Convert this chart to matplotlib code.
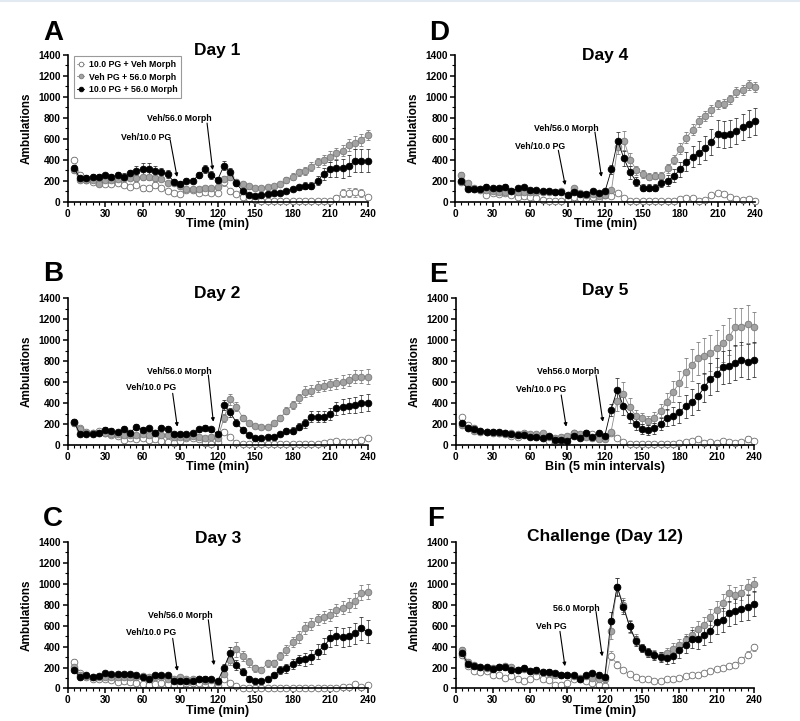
import matplotlib
matplotlib.use("Agg")
import matplotlib.pyplot as plt
from matplotlib.ticker import MultipleLocator

plt.rcParams["font.family"] = ["Liberation Sans", "DejaVu Sans"]
plt.rcParams["font.weight"] = "bold"

# 5-min bins, 0-240 min
TIME = list(range(5, 245, 5))

SERIES_LABELS = ["10.0 PG + Veh Morph", "Veh PG + 56.0 Morph", "10.0 PG + 56.0 Morph"]

# ---- Panel A (Day 1) ----
A_open = [398, 255, 205, 190, 180, 170, 170, 180, 160, 143, 160, 127,
          127, 160, 127, 100, 86, 73, 110, 110, 86, 95, 86, 80,
          190, 100, 70, 48, 32, 15, 8, 5, 5, 5, 5, 5,
          5, 5, 5, 5, 5, 5, 38, 80, 86, 89, 80, 40]
A_gray = [300, 207, 210, 210, 165, 207, 210, 215, 223, 230, 222, 232,
          232, 222, 215, 175, 180, 145, 118, 118, 125, 133, 133, 137,
          216, 240, 190, 165, 145, 127, 133, 143, 150, 165, 207, 240,
          280, 292, 335, 375, 398, 430, 460, 487, 540, 563, 590, 636]
A_black = [320, 223, 230, 240, 240, 250, 240, 250, 240, 270, 295, 310,
           310, 295, 280, 265, 185, 170, 200, 200, 255, 310, 255, 207,
           345, 280, 175, 100, 63, 54, 64, 73, 80, 86, 105, 120,
           137, 153, 153, 200, 265, 308, 320, 320, 345, 390, 390, 390]
A_open_err = [30, 25, 20, 20, 20, 20, 20, 20, 20, 20, 20, 25,
              25, 25, 20, 20, 15, 15, 20, 20, 15, 15, 15, 15,
              40, 25, 15, 10, 8, 5, 3, 3, 3, 3, 3, 3,
              3, 3, 3, 3, 3, 3, 25, 40, 45, 45, 40, 25]
A_gray_err = [30, 20, 20, 20, 20, 20, 20, 20, 20, 25, 25, 25,
              25, 25, 20, 20, 20, 20, 15, 15, 15, 15, 15, 15,
              30, 30, 25, 20, 20, 15, 15, 15, 20, 20, 25, 30,
              35, 35, 40, 45, 45, 50, 55, 55, 60, 60, 60, 45]
A_black_err = [30, 25, 25, 25, 25, 25, 25, 30, 30, 35, 45, 60,
               60, 50, 40, 35, 30, 25, 25, 25, 30, 40, 35, 30,
               40, 40, 30, 20, 15, 12, 12, 15, 15, 15, 20, 20,
               25, 30, 30, 45, 60, 70, 80, 90, 100, 110, 110, 110]

# ---- Panel B (Day 2) ----
B_open = [220, 159, 127, 118, 137, 111, 95, 86, 48, 64, 54, 70,
          48, 54, 41, 32, 22, 38, 64, 64, 54, 16, 10, 32,
          127, 73, 22, 8, 5, 5, 5, 5, 5, 5, 5, 5,
          5, 5, 5, 10, 15, 32, 41, 32, 32, 32, 48, 64]
B_gray = [207, 150, 118, 111, 118, 111, 102, 105, 95, 95, 95, 102,
          95, 118, 95, 95, 80, 73, 80, 86, 80, 70, 80, 64,
          255, 436, 366, 261, 207, 185, 175, 175, 207, 255, 328, 382,
          446, 509, 519, 557, 566, 579, 589, 605, 620, 652, 652, 652]
B_black = [215, 105, 105, 102, 118, 143, 137, 121, 150, 118, 175, 143,
           160, 118, 165, 156, 105, 105, 105, 118, 150, 165, 150, 102,
           382, 312, 213, 143, 95, 64, 70, 73, 80, 102, 134, 137,
           175, 207, 270, 270, 270, 296, 350, 366, 375, 382, 398, 404]
B_open_err = [25, 20, 15, 15, 15, 15, 15, 15, 10, 10, 10, 10,
              10, 10, 10, 8, 8, 8, 10, 10, 10, 5, 5, 8,
              25, 15, 8, 3, 3, 3, 3, 3, 3, 3, 3, 3,
              3, 3, 3, 5, 8, 12, 15, 12, 12, 12, 15, 20]
B_gray_err = [30, 20, 15, 15, 15, 15, 15, 15, 15, 15, 15, 15,
              15, 15, 15, 15, 15, 15, 15, 15, 15, 15, 15, 15,
              40, 50, 40, 30, 25, 20, 20, 20, 25, 30, 35, 40,
              45, 50, 50, 50, 50, 55, 55, 60, 60, 65, 65, 70]
B_black_err = [30, 20, 20, 20, 20, 25, 25, 20, 30, 20, 30, 25,
               25, 20, 25, 25, 20, 20, 20, 20, 25, 30, 25, 20,
               50, 45, 35, 25, 15, 12, 12, 12, 15, 20, 25, 30,
               35, 45, 55, 55, 55, 60, 65, 70, 70, 75, 80, 80]

# ---- Panel C (Day 3) ----
C_open = [255, 150, 111, 95, 86, 95, 80, 64, 73, 64, 54, 41,
          32, 41, 48, 41, 32, 32, 48, 54, 48, 41, 41, 32,
          86, 54, 25, 8, 5, 5, 5, 5, 5, 5, 5, 5,
          5, 5, 5, 5, 5, 5, 5, 16, 16, 41, 16, 32]
C_gray = [207, 127, 118, 111, 111, 111, 105, 111, 111, 105, 111, 118,
          111, 105, 111, 89, 95, 105, 95, 86, 89, 73, 80, 64,
          137, 270, 372, 312, 248, 191, 181, 239, 239, 309, 366, 445,
          493, 579, 614, 659, 684, 700, 748, 770, 795, 837, 913, 923]
C_black = [181, 105, 127, 111, 121, 143, 134, 134, 137, 137, 127, 105,
           86, 127, 127, 127, 73, 70, 73, 70, 89, 95, 86, 70,
           197, 340, 223, 159, 95, 73, 73, 86, 127, 175, 191, 232,
           270, 277, 302, 350, 404, 477, 500, 487, 500, 525, 573, 541]
C_open_err = [25, 20, 15, 15, 15, 15, 15, 12, 12, 12, 10, 10,
              8, 10, 10, 10, 8, 8, 10, 10, 10, 8, 8, 8,
              15, 10, 5, 3, 3, 3, 3, 3, 3, 3, 3, 3,
              3, 3, 3, 3, 3, 3, 3, 5, 5, 15, 5, 8]
C_gray_err = [30, 20, 15, 15, 15, 15, 15, 15, 15, 15, 15, 15,
              15, 15, 15, 15, 15, 15, 15, 15, 15, 15, 15, 15,
              30, 50, 70, 50, 40, 30, 25, 35, 35, 40, 45, 50,
              55, 55, 55, 55, 55, 60, 60, 60, 65, 70, 70, 70]
C_black_err = [30, 20, 20, 20, 20, 25, 25, 25, 25, 25, 25, 20,
               20, 25, 25, 25, 15, 15, 15, 15, 20, 20, 20, 15,
               35, 60, 50, 35, 20, 15, 15, 20, 25, 35, 40, 45,
               50, 60, 65, 70, 75, 80, 85, 90, 90, 100, 110, 110]

# ---- Panel D (Day 4) ----
D_open = [190, 127, 117, 111, 63, 86, 70, 80, 63, 48, 54, 41,
          32, 16, 6, 6, 6, 22, 48, 38, 32, 41, 32, 63,
          54, 80, 32, 3, 3, 3, 3, 3, 3, 3, 3, 22,
          32, 32, 6, 16, 63, 80, 70, 41, 22, 16, 22, 10]
D_gray = [253, 174, 127, 120, 111, 105, 89, 95, 105, 95, 95, 95,
          95, 95, 95, 89, 101, 63, 133, 80, 63, 70, 54, 63,
          111, 522, 580, 402, 300, 263, 237, 247, 247, 317, 402, 507,
          611, 687, 767, 817, 871, 928, 934, 975, 1045, 1067, 1115, 1093]
D_black = [196, 120, 120, 120, 143, 133, 127, 143, 105, 127, 136, 111,
           111, 105, 105, 95, 95, 63, 89, 73, 73, 105, 86, 105,
           307, 580, 412, 279, 190, 133, 133, 133, 180, 200, 247, 307,
           380, 428, 466, 513, 570, 650, 640, 650, 675, 713, 745, 767]
D_open_err = [25, 15, 15, 15, 10, 10, 10, 10, 10, 8, 8, 8,
              8, 5, 3, 3, 3, 5, 10, 8, 8, 8, 8, 10,
              10, 15, 8, 3, 3, 3, 3, 3, 3, 3, 3, 5,
              8, 8, 3, 5, 15, 20, 15, 10, 5, 5, 5, 5]
D_gray_err = [30, 20, 15, 15, 15, 15, 15, 15, 15, 15, 15, 15,
              15, 15, 15, 15, 15, 15, 20, 15, 15, 15, 15, 15,
              20, 70, 90, 60, 45, 40, 35, 35, 35, 40, 45, 50,
              55, 55, 55, 50, 50, 45, 45, 45, 45, 45, 50, 50]
D_black_err = [30, 20, 20, 20, 25, 20, 20, 25, 20, 20, 20, 20,
               20, 20, 20, 20, 20, 15, 15, 15, 15, 20, 15, 15,
               45, 80, 70, 60, 45, 35, 35, 35, 40, 50, 60, 75,
               90, 100, 110, 115, 120, 125, 125, 125, 125, 125, 125, 130]

# ---- Panel E (Day 5) ----
E_open = [264, 191, 159, 134, 127, 111, 118, 102, 86, 80, 118, 86,
          80, 64, 38, 32, 38, 64, 111, 95, 111, 102, 95, 80,
          118, 64, 32, 5, 5, 5, 5, 5, 5, 5, 5, 22,
          32, 38, 57, 16, 32, 22, 38, 32, 16, 32, 57, 38]
E_gray = [190, 159, 137, 127, 127, 121, 118, 111, 111, 105, 102, 105,
          102, 111, 80, 64, 80, 89, 111, 105, 80, 64, 54, 54,
          121, 423, 487, 366, 277, 255, 232, 261, 328, 414, 509, 589,
          694, 764, 827, 849, 875, 923, 970, 1034, 1123, 1130, 1155, 1123]
E_black = [213, 159, 150, 137, 127, 121, 127, 118, 105, 95, 95, 80,
           80, 64, 89, 48, 48, 38, 86, 64, 118, 80, 118, 86,
           334, 525, 372, 277, 200, 153, 143, 159, 200, 261, 277, 312,
           370, 410, 465, 550, 630, 675, 740, 750, 785, 815, 795, 815]
E_open_err = [25, 20, 15, 15, 15, 15, 15, 15, 12, 12, 15, 12,
              12, 10, 8, 8, 8, 10, 15, 12, 15, 12, 12, 12,
              20, 10, 8, 3, 3, 3, 3, 3, 3, 3, 3, 3,
              5, 8, 10, 15, 5, 10, 8, 10, 8, 5, 25, 10]
E_gray_err = [30, 20, 15, 15, 15, 15, 15, 15, 15, 15, 15, 15,
              15, 15, 15, 15, 15, 15, 15, 15, 15, 15, 15, 15,
              25, 100, 110, 80, 60, 50, 45, 50, 60, 80, 100, 120,
              140, 150, 160, 170, 170, 175, 175, 180, 180, 180, 185, 150]
E_black_err = [30, 20, 20, 20, 20, 20, 20, 20, 20, 20, 20, 20,
               20, 20, 20, 20, 20, 20, 20, 20, 25, 20, 25, 20,
               60, 110, 90, 70, 55, 45, 45, 50, 60, 80, 90, 100,
               110, 120, 130, 140, 150, 155, 160, 160, 165, 165, 170, 170]

# ---- Panel F (Challenge, Day 12) ----
F_open = [317, 218, 165, 158, 165, 133, 124, 101, 117, 86, 70, 86,
          117, 86, 79, 38, 29, 48, 86, 92, 70, 48, 29, 22,
          314, 228, 174, 139, 111, 92, 86, 76, 76, 86, 92, 101,
          117, 124, 133, 149, 171, 187, 196, 212, 228, 276, 323, 393]
F_gray = [364, 250, 222, 203, 196, 196, 203, 212, 203, 181, 187, 165,
          165, 155, 149, 133, 127, 124, 117, 101, 117, 101, 92, 86,
          545, 972, 798, 592, 466, 386, 339, 323, 307, 339, 377, 412,
          459, 513, 570, 602, 681, 750, 820, 909, 893, 915, 972, 995]
F_black = [339, 234, 212, 203, 203, 190, 206, 206, 181, 181, 196, 171,
           181, 155, 158, 143, 133, 127, 124, 92, 124, 143, 133, 108,
           646, 972, 776, 592, 453, 386, 345, 317, 301, 291, 307, 364,
           418, 472, 472, 513, 545, 630, 655, 719, 735, 760, 773, 808]
F_open_err = [30, 25, 20, 20, 20, 20, 20, 20, 20, 20, 15, 15,
              20, 15, 15, 10, 8, 10, 15, 15, 15, 10, 8, 5,
              40, 30, 20, 15, 12, 10, 10, 10, 10, 10, 10, 10,
              12, 12, 12, 15, 15, 18, 20, 20, 22, 25, 30, 35]
F_gray_err = [35, 25, 25, 25, 25, 25, 25, 25, 25, 25, 25, 25,
              25, 25, 25, 25, 25, 25, 20, 20, 20, 20, 20, 20,
              70, 80, 70, 60, 50, 40, 40, 40, 45, 50, 55, 60,
              65, 70, 75, 80, 80, 85, 85, 80, 80, 75, 75, 70]
F_black_err = [35, 25, 25, 25, 25, 25, 25, 25, 25, 25, 25, 25,
               25, 25, 25, 25, 25, 25, 25, 25, 20, 20, 20, 20,
               80, 85, 70, 50, 45, 40, 40, 45, 50, 55, 60, 70,
               80, 90, 100, 100, 100, 110, 115, 120, 120, 120, 120, 120]

# panel letter, title, x label, (series, errors), arrow notes
panels = [
    ("A", "Day 1", "Time (min)",
     [(A_open, A_open_err), (A_gray, A_gray_err), (A_black, A_black_err)],
     [("Veh/10.0 PG", (63, 617), (82, 589), (87.5, 236)),
      ("Veh/56.0 Morph", (89, 789), (111.5, 750), (116, 302))]),
    ("B", "Day 2", "Time (min)",
     [(B_open, B_open_err), (B_gray, B_gray_err), (B_black, B_black_err)],
     [("Veh/10.0 PG", (67, 547), (84, 493), (87.7, 175)),
      ("Veh/56.0 Morph", (89, 706), (112.5, 668), (116.5, 222))]),
    ("C", "Day 3", "Time (min)",
     [(C_open, C_open_err), (C_gray, C_gray_err), (C_black, C_black_err)],
     [("Veh/10.0 PG", (67, 532), (84, 478), (87.7, 168)),
      ("Veh/56.0 Morph", (90, 700), (112.5, 656), (117, 223))]),
    ("D", "Day 4", "Time (min)",
     [(D_open, D_open_err), (D_gray, D_gray_err), (D_black, D_black_err)],
     [("Veh/10.0 PG", (68, 531), (82.5, 490), (88, 158)),
      ("Veh/56.0 Morph", (89, 701), (111.8, 664), (117, 237))]),
    ("E", "Day 5", "Bin (5 min intervals)",
     [(E_open, E_open_err), (E_gray, E_gray_err), (E_black, E_black_err)],
     [("Veh/10.0 PG", (69, 534), (85, 477), (89, 175)),
      ("Veh56.0 Morph", (90.5, 706), (113, 668), (118.5, 222))]),
    ("F", "Challenge (Day 12)", "Time (min)",
     [(F_open, F_open_err), (F_gray, F_gray_err), (F_black, F_black_err)],
     [("Veh PG", (77, 592), (84, 545), (88, 213)),
      ("56.0 Morph", (97, 766), (113, 734), (118, 307))]),
]

# axes rectangles (fig fraction) and where letters / titles sit
ax_rects = {
    "A": [0.0846, 0.7203, 0.375, 0.2035], "B": [0.0846, 0.3828, 0.375, 0.2035],
    "C": [0.0846, 0.0451, 0.375, 0.2035], "D": [0.5690, 0.7203, 0.375, 0.2035],
    "E": [0.5694, 0.3828, 0.373, 0.2035], "F": [0.5694, 0.0451, 0.373, 0.2035],
}
letter_px = {"A": (53, 33), "B": (53, 274), "C": (53, 519),
             "D": (439, 33), "E": (438, 275), "F": (436, 519)}
title_y = {"A": 1.027, "B": 1.03, "C": 1.025, "D": 0.995, "E": 1.055, "F": 1.035}

styles = [
    dict(mfc="white", mec="#6e6e6e", color="#9a9a9a", ecolor="#8a8a8a"),
    dict(mfc="#a3a3a3", mec="#7a7a7a", color="#8c8c8c", ecolor="#7a7a7a"),
    dict(mfc="black", mec="black", color="black", ecolor="#333333"),
]

fig = plt.figure(figsize=(8, 7.21), dpi=100)
W, H = 800, 721

for letter, title, xlabel, series, notes in panels:
    ax = fig.add_axes(ax_rects[letter])
    lines = []
    for (vals, errs), st in zip(series, styles):
        h = ax.errorbar(TIME, vals, yerr=errs, fmt="-o", ms=4.8, mew=0.6,
                        mfc=st["mfc"], mec=st["mec"], color=st["color"],
                        lw=0.6, ecolor=st["ecolor"], elinewidth=0.5,
                        capsize=1.2, capthick=0.5, clip_on=False)
        lines.append(h[0])

    ax.set_xlim(0, 240)
    ax.set_ylim(0, 1400)
    ax.xaxis.set_major_locator(MultipleLocator(30))
    ax.xaxis.set_minor_locator(MultipleLocator(5))
    ax.yaxis.set_major_locator(MultipleLocator(200))
    ax.yaxis.set_minor_locator(MultipleLocator(100))
    for side in ("top", "right"):
        ax.spines[side].set_visible(False)
    for side in ("left", "bottom"):
        ax.spines[side].set_linewidth(1.2)
    ax.tick_params(which="major", direction="out", length=3.5, width=1.1,
                   labelsize=7.3, pad=1.5)
    ax.tick_params(which="minor", direction="out", length=2, width=0.8)
    for lbl in ax.get_xticklabels() + ax.get_yticklabels():
        lbl.set_fontweight("bold")

    ax.set_ylabel("Ambulations", fontsize=8.5, fontweight="bold")
    ax.yaxis.set_label_coords(-0.118, 0.5)
    ax.set_xlabel(xlabel, fontsize=9, fontweight="bold")
    ax.xaxis.set_label_coords(0.5, -0.112)

    ax.text(0.5, title_y[letter], title, transform=ax.transAxes,
            ha="center", va="center", fontsize=12.5, fontweight="bold")

    lx, ly = letter_px[letter]
    fig.text(lx / W, 1 - ly / H, letter, ha="center", va="center",
             fontsize=20, fontweight="bold")

    for text, txy, tail, head in notes:
        ax.text(txy[0], txy[1], text, ha="center", va="center",
                fontsize=6.3, fontweight="bold")
        ax.annotate("", xy=head, xytext=tail,
                    arrowprops=dict(arrowstyle="-|>", lw=0.8, color="black",
                                    mutation_scale=5, shrinkA=0, shrinkB=0))

    if letter == "A":
        leg = ax.legend(lines, SERIES_LABELS, loc="upper left",
                        bbox_to_anchor=(0.005, 1.025), fontsize=6.3,
                        markerscale=0.7, handlelength=0.8, handletextpad=0.5,
                        borderpad=0.45, labelspacing=0.45, fancybox=False,
                        framealpha=1, edgecolor="#9a9a9a")
        leg.get_frame().set_linewidth(0.8)
        for t in leg.get_texts():
            t.set_fontweight("bold")

# faint line along the top edge
fig.add_artist(plt.Line2D([0, 1], [0.999, 0.999], transform=fig.transFigure,
                          color="#e3e9f1", lw=1.5))

fig.savefig("out.png", dpi=100)
